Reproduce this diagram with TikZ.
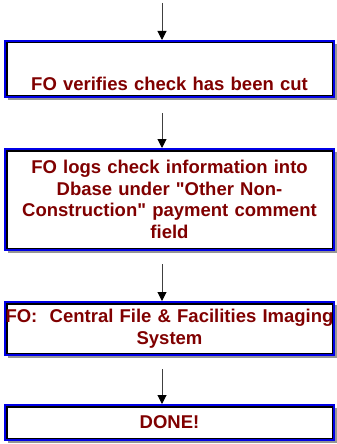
\documentclass[tikz,border=0pt]{standalone}
\usepackage{fontspec}
\setmainfont{Liberation Sans}
\usepackage{xcolor}
\usetikzlibrary{arrows.meta,shadows}
\definecolor{boxblue}{RGB}{0,0,230}
\definecolor{textred}{RGB}{128,0,0}
\definecolor{shadowgray}{RGB}{150,150,150}
\tikzset{
	flowbox/.style={draw=boxblue, line width=2pt, fill=white,
		drop shadow={shadow xshift=3pt, shadow yshift=-3pt, fill=shadowgray, opacity=1},
		path picture={\draw[black, line width=5pt] (path picture bounding box.south west) rectangle (path picture bounding box.north east);},
		minimum width=329pt, text width=335pt, inner xsep=-3pt, inner ysep=0pt, align=center,
		text=textred, font=\fontsize{18.5}{21.7}\selectfont\bfseries},
	flowarrow/.style={draw=black!75, line width=1pt, shorten <=13pt,
		-{Triangle[width=9pt,length=9pt,fill=black,color=black]}}
}
\begin{document}
\begin{tikzpicture}[x=1pt,y=-1pt]
	\useasboundingbox (0,0) rectangle (337,444);
	%% the boxes, top to bottom
	\node[flowbox, minimum height=56pt] (verify) at (169.5,69) {\strut\\[7pt]FO verifies check has been cut};
	\node[flowbox, minimum height=101pt] (logs) at (169.5,199.5) {FO logs check information into\\Dbase under \textquotedbl Other Non-\\Construction\textquotedbl{} payment comment\\field};
	\node[flowbox, minimum height=53pt] (imaging) at (169.5,328.5) {FO:~ Central File \& Facilities Imaging\\System};
	\node[flowbox, minimum height=35pt] (done) at (169.5,422.5) {DONE!};
	%% arrows run a bit left of the box centres
	\coordinate (start) at (162,3);
	\draw[flowarrow, shorten <=0pt] (start) -- (verify.north -| start);
	\draw[flowarrow, shorten <=15pt] (verify.south -| start) -- (logs.north -| start);
	\draw[flowarrow] (logs.south -| start) -- (imaging.north -| start);
	\draw[flowarrow] (imaging.south -| start) -- (done.north -| start);
\end{tikzpicture}
\end{document}
